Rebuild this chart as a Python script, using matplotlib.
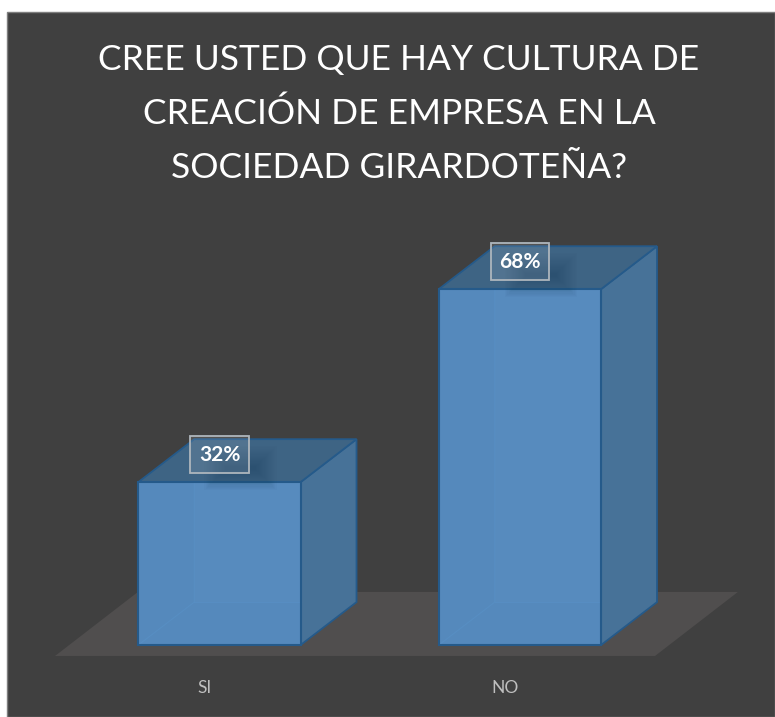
# -*- coding: utf-8 -*-
import matplotlib
matplotlib.use("Agg")
import matplotlib.pyplot as plt
from matplotlib.patches import Polygon, Rectangle

categories = ["SI", "NO"]
values = [32, 68]
value_labels = ["32%", "68%"]
title_lines = ["CREE USTED QUE HAY CULTURA DE",
               "CREACIÓN DE EMPRESA EN LA",
               "SOCIEDAD GIRARDOTEÑA?"]

W, H = 775, 717
plt.rcParams['font.family'] = ['Lato', 'DejaVu Sans']

bg = "#404040"
floor_col = "#504E4E"
front_col = "#5589BC"
inner_col = "#578BBE"
top_col = "#3E6484"
side_col = "#477298"
edge_col = "#255A8A"

fig = plt.figure(figsize=(W / 100, H / 100), dpi=100, facecolor="white")
fig.add_artist(Rectangle((6.5 / W, 0), (W - 6.5) / W, (H - 11.5) / H,
                         transform=fig.transFigure, facecolor=bg,
                         edgecolor="#7F7F7F", linewidth=1, zorder=-1))

# plot box runs from the floor's front corner to past the tallest bar
ax = fig.add_axes([55 / W, (H - 645) / H, 600 / W, 445 / H])
ax.set_xlim(-0.5474, 1.4493)
ax.set_ylim(1.6, 1.6 + 445 / 5.36)
ax.patch.set_visible(False)
for s in ax.spines.values():
    s.set_visible(False)

bar_w = 0.54
depth_x = 0.186
depth_y = 8.0

# floor
x0, x1 = ax.get_xlim()
y0 = ax.get_ylim()[0]
floor_drop = 2.05
ax.add_patch(Polygon([(x0, y0 - floor_drop), (x1, y0 - floor_drop),
                      (x1 + 0.276, y0 + 9.9), (x0 + 0.276, y0 + 9.9)],
                     facecolor=floor_col, edgecolor="none", clip_on=False, zorder=1))

for i, v in enumerate(values):
    l, r = i - bar_w / 2, i + bar_w / 2
    # side and top faces
    ax.add_patch(Polygon([(r, y0), (r + depth_x, y0 + depth_y),
                          (r + depth_x, v + depth_y), (r, v)],
                         facecolor=side_col, edgecolor=edge_col, linewidth=1.3,
                         clip_on=False, zorder=2))
    ax.add_patch(Polygon([(l, v), (r, v), (r + depth_x, v + depth_y), (l + depth_x, v + depth_y)],
                         facecolor=top_col, edgecolor=edge_col, linewidth=1.3,
                         clip_on=False, zorder=2))
    # front face, the rear of the box shows faintly through it
    ax.add_patch(Rectangle((l, y0), bar_w, v - y0, facecolor=front_col,
                           edgecolor="none", clip_on=False, zorder=3))
    ax.add_patch(Rectangle((l + depth_x, y0 + depth_y), bar_w - depth_x, v - y0 - depth_y,
                           facecolor=inner_col, edgecolor="none", zorder=3.1))
    ax.plot([l, l + depth_x, l + depth_x], [y0, y0 + depth_y, v],
            color="#5890C5", linewidth=0.8, alpha=0.7, zorder=3.2)
    ax.plot([l + depth_x, r], [y0 + depth_y, y0 + depth_y],
            color="#5890C5", linewidth=0.8, alpha=0.7, zorder=3.2)
    ax.add_patch(Rectangle((l, y0), bar_w, v - y0, facecolor="none",
                           edgecolor=edge_col, linewidth=1.5, clip_on=False, zorder=3.5))
    # soft shadow under the value label
    steps = 18
    for k in range(steps):
        ax.add_patch(Rectangle((i - 0.05 + k * 0.004, v - 1.5 + k * 0.22),
                               0.24 - k * 0.008, 8.2 - k * 0.44,
                               facecolor="#1F3F5E", alpha=0.028, edgecolor="none", zorder=4))
    ax.text(i, v + 5.1, value_labels[i], color="white", fontsize=15, fontweight="bold",
            ha="center", va="center", zorder=5,
            bbox=dict(boxstyle="square,pad=0.4", facecolor=(1, 1, 1, 0.10),
                      edgecolor="#AEB6BD", linewidth=1.3))

ax.set_yticks([])
# category labels sit a little left of the bar centres
ax.set_xticks([i - 0.05 for i in range(len(categories))])
ax.set_xticklabels(categories, color="#BFBFBF", fontsize=12.5)
ax.tick_params(axis="x", length=0, pad=25)

for n, line in enumerate(title_lines):
    fig.text(399 / W, 1 - (60 + n * 54) / H, line, color="white", fontsize=25.5,
             ha="center", va="center")

fig.savefig("out.png", dpi=100, facecolor=fig.get_facecolor())
